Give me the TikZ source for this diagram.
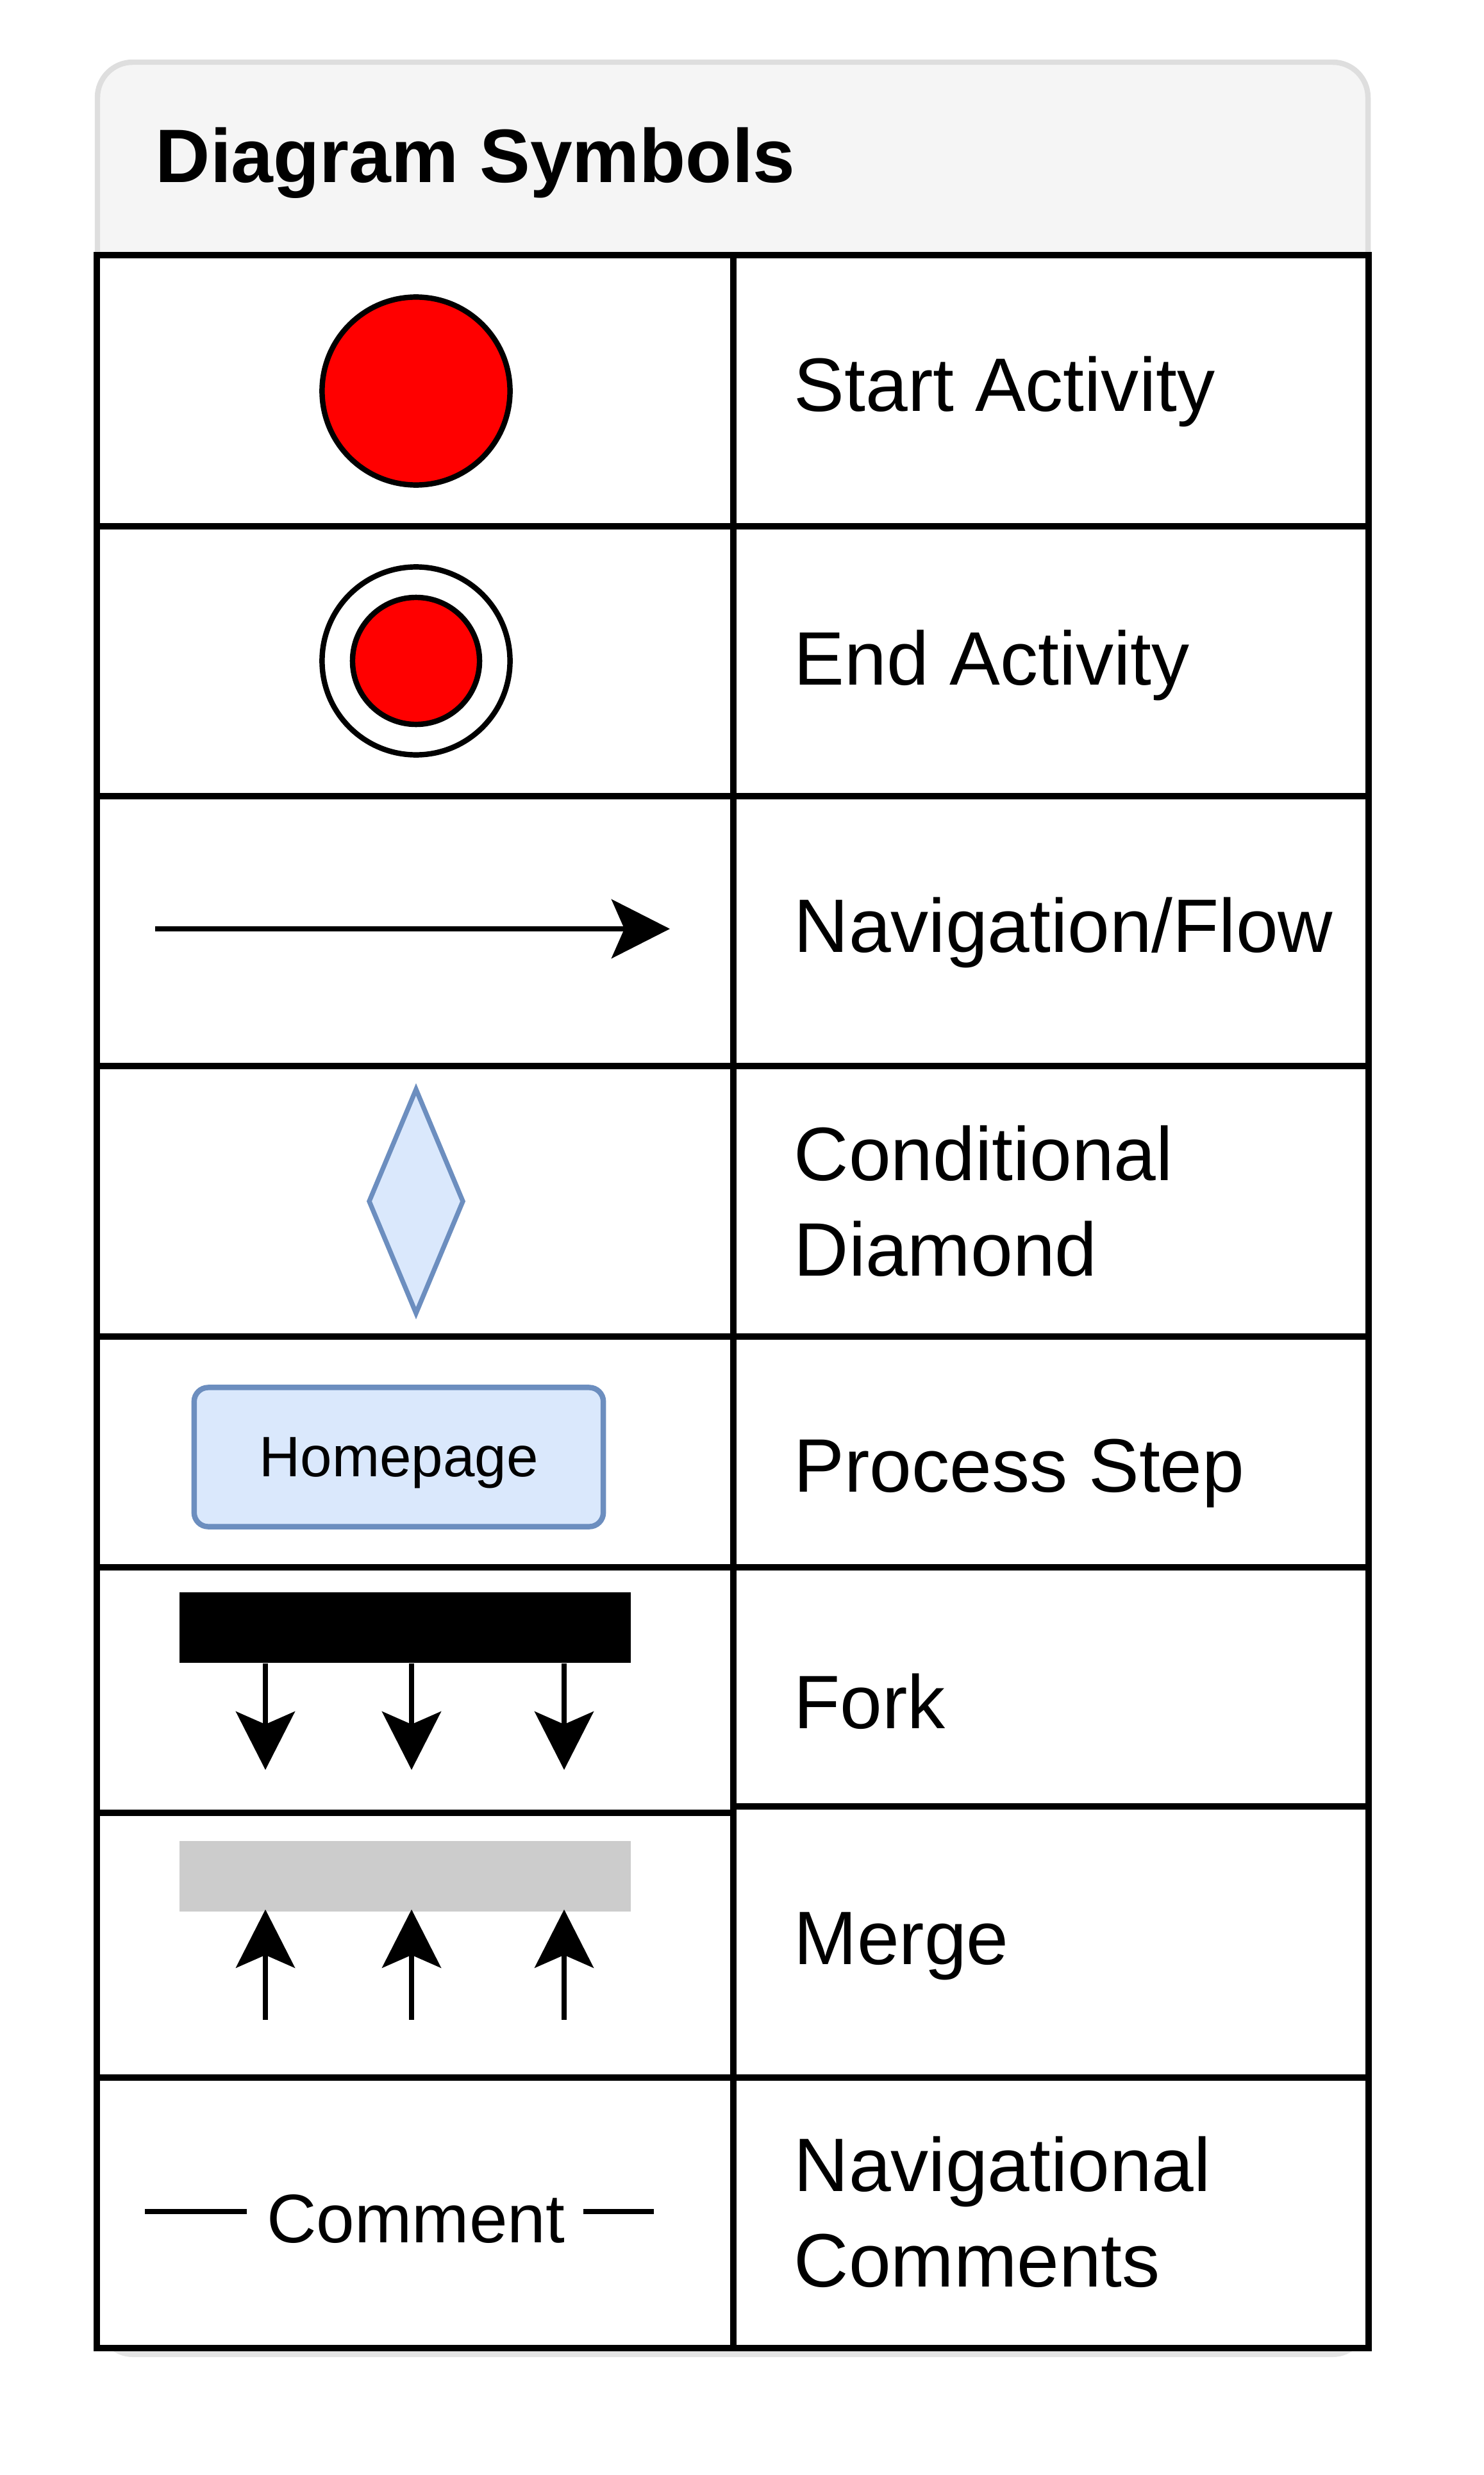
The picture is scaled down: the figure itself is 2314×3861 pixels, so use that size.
\documentclass[tikz,border=0pt]{standalone}
\usepackage{fontspec}
\setmainfont{Liberation Sans}
\usetikzlibrary{arrows.meta}
\usetikzlibrary{positioning}
\usetikzlibrary{shapes.geometric}

\definecolor{headfill}{HTML}{F5F5F5}
\definecolor{headline}{HTML}{DEDEDE}
\definecolor{shadowgray}{HTML}{E4E4E4}
\definecolor{startred}{HTML}{FF0000}
\definecolor{bluefill}{HTML}{DAE8FC}
\definecolor{blueline}{HTML}{6C8EBF}
\definecolor{mergegray}{HTML}{CCCCCC}

\tikzset {
  % lines of the symbol table
  table line/.style = {
    draw = black,
    line width = 2.6pt
  },
  % text in the right column
  symbol text/.style = {
    anchor = base west,
    inner sep = 0,
    align = left,
    font = \fontsize{33.6pt}{42.1pt}\selectfont
  },
  title text/.style = {
    symbol text,
    font = \fontsize{33.6pt}{42.1pt}\selectfont\bfseries
  },
  % start and end markers
  activity/.style = {
    circle,
    draw = black,
    fill = startred,
    line width = 2.4pt,
    inner sep = 0,
    minimum size = 2.93cm
  },
  end ring/.style = {
    activity,
    fill = white
  },
  decision/.style = {
    diamond,
    draw = blueline,
    fill = bluefill,
    line width = 2.1pt,
    inner sep = 0,
    minimum width = 1.49cm,
    minimum height = 3.52cm
  },
  process/.style = {
    rectangle,
    rounded corners = 0.22cm,
    draw = blueline,
    fill = bluefill,
    line width = 2.4pt,
    minimum width = 6.38cm,
    minimum height = 2.17cm,
    text depth = 0pt,
    font = \fontsize{25.3pt}{30pt}\selectfont
  },
  % fork and merge bars
  bar/.style = {
    rectangle,
    inner sep = 0,
    minimum width = 7.04cm,
    minimum height = 1.1cm
  },
  flow/.style = {
    draw = black,
    line width = 2pt,
    -{Stealth[length = 9.1mm, width = 9.2mm, inset = 2mm]}
  },
  comment line/.style = {
    draw = black,
    line width = 2.4pt
  }
}

\begin{document}
\begin{tikzpicture}[x = 0.01cm, y = -0.01cm]
  \useasboundingbox (0,0) rectangle (2314,3861);

  % container with header
  \fill[shadowgray, rounded corners = 0.55cm] (152,113) rectangle (2134,3677);
  \draw[headline, fill = headfill, line width = 2.4pt, rounded corners = 0.55cm]
    (152,97) rectangle (2134,3663);
  \fill[white] (152,398) rectangle (2134,3663);
  \node[title text] (title) at (242,285) {Diagram Symbols};

  % table
  \draw[table line] (151,398) rectangle (2135,3663);
  \draw[table line] (1144,398) -- (1144,3663);
  \foreach \y in {821, 1242, 1663, 2085, 2445, 3241}
    \draw[table line] (151,\y) -- (2135,\y);
  \draw[table line] (151,2828) -- (1144,2828);
  \draw[table line] (1144,2818) -- (2135,2818);

  % symbols
  \node[activity] (start) at (649,610) {};

  \node[end ring] (end ring) at (649,1031) {};
  \node[activity, minimum size = 1.98cm] (end dot) at (end ring) {};

  \coordinate (flow tail) at (242,1449);
  \coordinate (flow head) at (1045,1449);
  \draw[flow] (flow tail) -- (flow head);

  \node[decision] (cond) at (649,1874) {};

  \node[process] (homepage) at (622,2273) {Homepage};

  \node[bar, fill = black] (fork) at (632,2539) {};
  \node[bar, fill = mergegray] (merge) at (632,2927) {};
  \foreach \i/\x in {1/414, 2/642, 3/880} {
    \coordinate (fork tip \i) at (\x,2761);
    \draw[flow] (fork tip \i |- fork.south) -- (fork tip \i);
    \coordinate (merge tail \i) at (\x,3151);
    \draw[flow] (merge tail \i) -- ([yshift = 0.04cm] merge tail \i |- merge.south);
  }

  \node[symbol text, anchor = base, font = \fontsize{30.5pt}{36pt}\selectfont]
    (comment) at (649,3498) {Comment};
  \coordinate (comment a) at (226,3450);
  \coordinate (comment b) at (385,3450);
  \coordinate (comment c) at (910,3450);
  \coordinate (comment d) at (1020,3450);
  \draw[comment line] (comment a) -- (comment b);
  \draw[comment line] (comment c) -- (comment d);

  % names (two-line names sit on the baseline of their last line)
  \node[symbol text] (start text) at (1238,642) {Start Activity};
  \node[symbol text] (end text) at (1238,1068) {End Activity};
  \node[symbol text] (flow text) at (1238,1485) {Navigation/Flow};
  \node[symbol text] (cond text) at (1238,1990) {Conditional\\Diamond};
  \node[symbol text] (process text) at (1238,2327) {Process Step};
  \node[symbol text] (fork text) at (1238,2696) {Fork};
  \node[symbol text] (merge text) at (1238,3064) {Merge};
  \node[symbol text] (comment text) at (1238,3567) {Navigational\\Comments};
\end{tikzpicture}
\end{document}
